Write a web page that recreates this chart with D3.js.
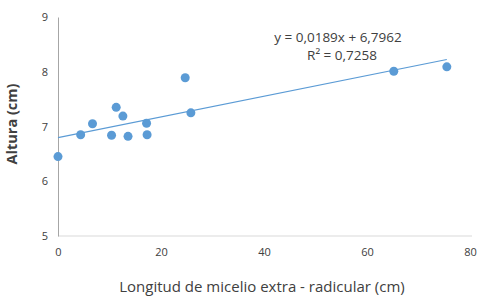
<!DOCTYPE html>
<html>
<head>
<meta charset="utf-8">
<script src="https://cdn.jsdelivr.net/npm/d3@7"></script>
<style>
body { margin: 0; background: #fff; }
text { font-family: "Open Sans", sans-serif; }
</style>
</head>
<body>
<div id="chart"></div>
<script>
// longitud de micelio (cm) and altura (cm)
var longitud = [0, 4.4, 6.7, 10.4, 11.3, 12.6, 13.6, 17.2, 17.3, 24.7, 25.8, 65.2, 75.5];
var altura = [6.45, 6.85, 7.05, 6.84, 7.35, 7.19, 6.82, 7.06, 6.85, 7.89, 7.25, 8.01, 8.09];
var xTicks = [0, 20, 40, 60, 80];
var yTicks = [5, 6, 7, 8, 9];
var slope = 0.0189, intercept = 6.7962;
var eqLabel = "y = 0,0189x + 6,7962";
var r2Label = "R² = 0,7258";

function chart() {
    var w = 488, h = 299;

    var x = d3.scaleLinear().domain([0, 80]).range([58, 470]);
    var y = d3.scaleLinear().domain([5, 9]).range([236, 17]);

    var svg = d3.select("#chart").append("svg")
        .attr("width", w)
        .attr("height", h);

    // axes
    var xAxis = d3.axisBottom(x).tickValues(xTicks).tickFormat(d3.format("d")).tickSize(0).tickPadding(12);
    var gx = svg.append("g")
        .attr("transform", "translate(0," + y(5) + ")")
        .call(xAxis);
    gx.select(".domain").attr("stroke", "#d9d9d9").attr("d", "M58,0H472");
    gx.selectAll("text").attr("fill", "#404040").style("font-size", "11px");

    var yAxis = d3.axisLeft(y).tickValues(yTicks).tickFormat(d3.format("d")).tickSize(0).tickPadding(10);
    var gy = svg.append("g")
        .attr("transform", "translate(" + x(0) + ",0)")
        .call(yAxis);
    gy.select(".domain").attr("stroke", "#a6a6a6");
    gy.selectAll("text").attr("fill", "#404040").style("font-size", "11px");

    // trend line
    var xMax = d3.max(longitud);
    svg.append("line")
        .attr("x1", x(0)).attr("y1", y(intercept))
        .attr("x2", x(xMax)).attr("y2", y(intercept + slope * xMax))
        .attr("stroke", "#5b9bd5")
        .attr("stroke-width", 1.2);

    // points
    svg.selectAll("circle")
        .data(longitud)
        .enter()
        .append("circle")
        .attr("cx", function(d) { return x(d); })
        .attr("cy", function(d, i) { return y(altura[i]); })
        .attr("r", 4.5)
        .attr("fill", "#5b9bd5");

    // equation
    svg.append("text")
        .attr("x", 338).attr("y", 42)
        .attr("text-anchor", "middle")
        .attr("fill", "#404040")
        .style("font-size", "13.5px")
        .text(eqLabel);
    svg.append("text")
        .attr("x", 342).attr("y", 60)
        .attr("text-anchor", "middle")
        .attr("fill", "#404040")
        .style("font-size", "13.5px")
        .text(r2Label);

    // titles
    svg.append("text")
        .attr("x", 262).attr("y", 292)
        .attr("text-anchor", "middle")
        .attr("fill", "#404040")
        .style("font-size", "15px")
        .text("Longitud de micelio extra - radicular (cm)");
    svg.append("text")
        .attr("transform", "translate(17,124) rotate(-90)")
        .attr("text-anchor", "middle")
        .attr("fill", "#404040")
        .style("font-size", "14.5px")
        .style("font-weight", "bold")
        .text("Altura (cm)");
}

window.onload = chart;
</script>
</body>
</html>
